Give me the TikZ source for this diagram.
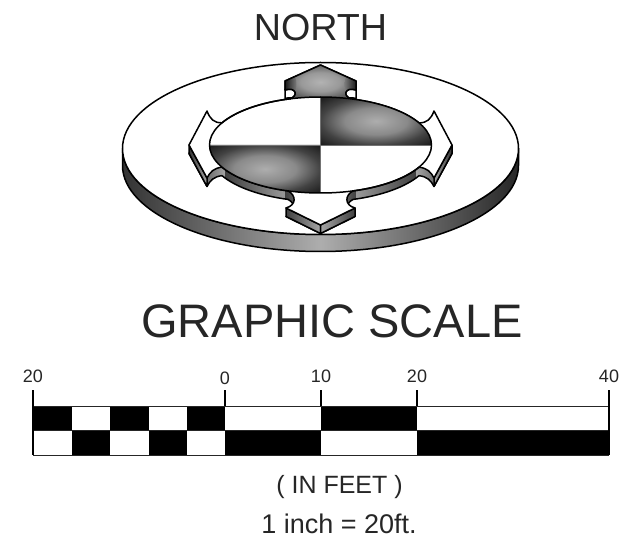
\documentclass[tikz,border=0pt]{standalone}
\usepackage{fontspec}
\setmainfont{Liberation Sans}
\pgfdeclareradialshading{quadshade}{\pgfpointorigin}{color(0bp)=(black!32); color(14bp)=(black!46); color(25bp)=(black!74); color(34bp)=(black!88); color(50bp)=(black!88)}
\pgfdeclareradialshading{arrowshade}{\pgfpointorigin}{color(0bp)=(black!30); color(14bp)=(black!40); color(25bp)=(black!62); color(50bp)=(black!72)}
\begin{document}
\begin{tikzpicture}[x=1pt,y=-1pt,
  outl/.style={draw=black,line width=1.5pt,line join=round},
  thin scale/.style={draw=black!85,line width=1pt},
  ticks/.style={draw=black,line width=1.2pt},
  lbl/.style={font=\fontsize{18}{20}\selectfont,text=black!85,inner sep=0pt},
  captxt/.style={text=black!85,inner sep=0pt},
  cell/.style={fill=black,draw=none}]
\useasboundingbox (0,0) rectangle (624,556);
\def\compass{(320.5,65) -- (356,81) -- (356,90) .. controls (345,86.5) and (342,96) .. (351.1,98.9)
  arc[start angle=74,end angle=27.5,x radius=111pt,y radius=48pt]
  .. controls (427,123) and (431,119) .. (434,111) -- (452,145) -- (434,178)
  .. controls (431,172) and (427,168) .. (419,167.2)
  arc[start angle=-27.5,end angle=-73,x radius=111pt,y radius=48pt]
  .. controls (345,195) and (344,205) .. (355,208) -- (320.5,225) -- (286,208)
  .. controls (297,205) and (296,195) .. (288,190.9)
  arc[start angle=253,end angle=207.5,x radius=111pt,y radius=48pt]
  .. controls (214,168) and (210,172) .. (207,178) -- (189,145) -- (207,111)
  .. controls (210,119) and (214,123) .. (222,122.8)
  arc[start angle=152.5,end angle=106,x radius=111pt,y radius=48pt]
  .. controls (299,96) and (296,86.5) .. (285,90) -- (285,81) -- cycle}
% disk rim
\path[left color=black!80,right color=black!85,middle color=black!32]
  (122.5,148.5) arc[start angle=180,end angle=360,x radius=198pt,y radius=86pt]
  -- (518.5,165.5) arc[start angle=360,end angle=180,x radius=198pt,y radius=86pt] -- cycle;
\draw[outl] (122.5,148.5) arc[start angle=180,end angle=360,x radius=198pt,y radius=86pt]
  -- (518.5,165.5) arc[start angle=360,end angle=180,x radius=198pt,y radius=86pt] -- cycle;
% disk top
\draw[outl,fill=white] (320.5,148.5) ellipse[x radius=198pt,y radius=86pt];
% extrusion of the compass
\begin{scope}[yshift=-8.5pt]
  \begin{scope}
    \clip \compass;
    \path[left color=black!85,right color=black!35] (185,100) rectangle (225,240);
    \path[left color=black!75,right color=black!40] (225,100) rectangle (285,240);
    \path[left color=black!75,right color=black!35] (285,100) rectangle (320.5,240);
    \path[left color=black!35,right color=black!75] (320.5,100) rectangle (356,240);
    \path[left color=black!40,right color=black!75] (356,100) rectangle (416,240);
    \path[left color=black!35,right color=black!85] (416,100) rectangle (456,240);
  \end{scope}
  \draw[outl] \compass;
\end{scope}
% swept side walls of the arrows
\draw[outl,left color=black!80,right color=black!35] (189,145) -- (207,178) -- (207,186.5) -- (189,153.5) -- cycle;
\draw[outl,left color=black!35,right color=black!80] (452,145) -- (434,178) -- (434,186.5) -- (452,153.5) -- cycle;
\draw[outl,left color=black!75,right color=black!35] (286,208) -- (320.5,225) -- (320.5,233.5) -- (286,216.5) -- cycle;
\draw[outl,left color=black!35,right color=black!75] (355,208) -- (320.5,225) -- (320.5,233.5) -- (355,216.5) -- cycle;
% compass face
\draw[outl,fill=white] \compass;
% north arrow
\path[shading=arrowshade]
  (320.5,65) -- (356,81) -- (356,90) .. controls (345,86.5) and (342,96) .. (351.1,98.9)
  arc[start angle=74,end angle=106,x radius=111pt,y radius=48pt]
  .. controls (299,96) and (296,86.5) .. (285,90) -- (285,81) -- cycle;
\path[left color=black!50,right color=black!90]
  (346,76.5) -- (356,81) -- (356,90) .. controls (351,88.4) and (347.5,89) .. (346,92)
  .. controls (344,88) and (344,81) .. (346,76.5);
\path[right color=black!50,left color=black!90]
  (295,76.5) -- (285,81) -- (285,90) .. controls (290,88.4) and (293.5,89) .. (295,92)
  .. controls (297,88) and (297,81) .. (295,76.5);
\draw[outl] (285,90) -- (285,81) -- (320.5,65) -- (356,81) -- (356,90)
  .. controls (345,86.5) and (342,96) .. (351.1,98.9);
\draw[outl] (285,90) .. controls (296,86.5) and (299,96) .. (289.9,98.9);
% quadrants
\path[shading=quadshade]
  (320.5,145) -- (431.5,145) arc[start angle=0,end angle=90,x radius=111pt,y radius=48pt] -- cycle;
\path[shading=quadshade]
  (320.5,145) -- (209.5,145) arc[start angle=180,end angle=270,x radius=111pt,y radius=48pt] -- cycle;
\draw[draw=black!55,line width=.7pt] (209.5,145) -- (431.5,145) (320.5,97) -- (320.5,193);
\draw[outl] (320.5,145) ellipse[x radius=111pt,y radius=48pt];
% bar scale
\path[cell] (33,406) rectangle (72,430.5);
\path[cell] (110,406) rectangle (148.5,430.5);
\path[cell] (186.5,406) rectangle (225,430.5);
\path[cell] (321,406) rectangle (417,430.5);
\path[cell] (71.5,430.5) rectangle (110,455);
\path[cell] (148.5,430.5) rectangle (187,455);
\path[cell] (225,430.5) rectangle (321,455);
\path[cell] (417,430.5) rectangle (609.5,455);
\draw[thin scale] (33,406.5) -- (609,406.5) (33,430.5) -- (609,430.5) (33,455) -- (609,455);
\draw[ticks] (33,390) -- (33,455) (225,390) -- (225,406) (321,390) -- (321,406) (417,390) -- (417,406) (609,390) -- (609,455);
% text
\node[captxt,font=\fontsize{37.7}{40}\selectfont] (north) at (320.5,28) {NORTH};
\node[captxt,font=\fontsize{47}{50}\selectfont] (title) at (332,321) {GRAPHIC SCALE};
\node[lbl] (a) at (33,376.5) {20};
\node[lbl] (b) at (225,378.5) {0};
\node[lbl] (c) at (321,376.5) {10};
\node[lbl] (d) at (417,376.5) {20};
\node[lbl] (e) at (609,376.5) {40};
\node[captxt,font=\fontsize{25}{27}\selectfont] (u) at (339.5,487) {( IN FEET )};
\node[captxt,font=\fontsize{27}{29}\selectfont] (v) at (339,524) {1 inch = 20ft.};
\end{tikzpicture}
\end{document}
